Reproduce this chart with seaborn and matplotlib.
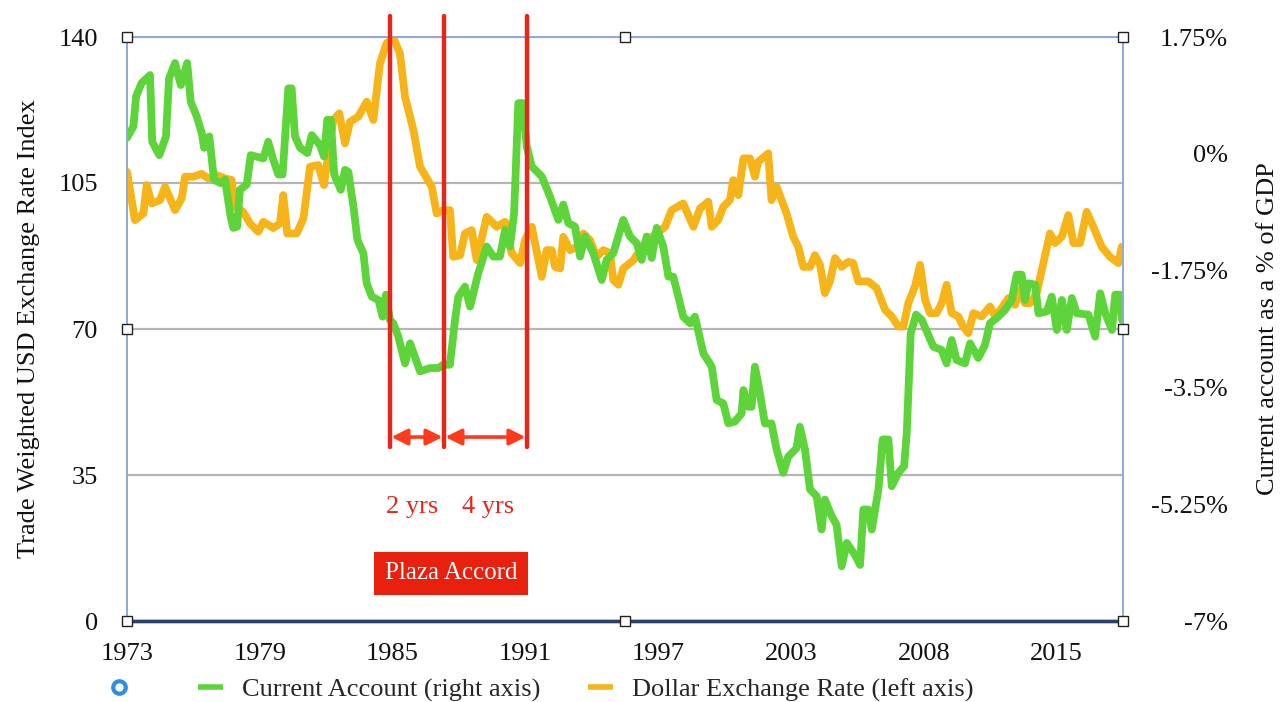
import numpy as np
import pandas as pd
import matplotlib
matplotlib.use("Agg")
import matplotlib.pyplot as plt
from matplotlib.lines import Line2D
import seaborn as sns

# Dados (ano decimal, valor)

# Conta corrente EUA (% do PIB) - eixo direito
ca_year = [1973.00, 1973.29, 1973.41, 1973.66, 1974.04, 1974.14, 1974.46, 1974.76, 1974.90, 1975.17,
           1975.43, 1975.72, 1975.88, 1976.15, 1976.38, 1976.48, 1976.72, 1976.93, 1977.23, 1977.43,
           1977.68, 1977.80, 1977.98, 1978.10, 1978.41, 1978.59, 1979.16, 1979.38, 1979.61, 1979.84,
           1980.03, 1980.29, 1980.44, 1980.59, 1980.82, 1981.15, 1981.35, 1981.72, 1981.90, 1982.05,
           1982.21, 1982.36, 1982.66, 1982.85, 1983.00, 1983.23, 1983.41, 1983.68, 1983.83, 1984.06,
           1984.36, 1984.55, 1984.70, 1984.88, 1985.03, 1985.26, 1985.56, 1985.79, 1986.24, 1986.69,
           1987.07, 1987.29, 1987.59, 1987.82, 1987.97, 1988.27, 1988.50, 1988.87, 1989.25, 1989.55,
           1989.85, 1990.08, 1990.30, 1990.49, 1990.68, 1990.88, 1991.06, 1991.29, 1991.74, 1992.11,
           1992.49, 1992.71, 1992.94, 1993.24, 1993.47, 1993.69, 1994.07, 1994.45, 1994.67, 1994.97,
           1995.42, 1995.73, 1996.03, 1996.25, 1996.48, 1996.71, 1996.93, 1997.23, 1997.46, 1997.68,
           1997.91, 1998.13, 1998.44, 1998.66, 1999.04, 1999.42, 1999.64, 1999.94, 2000.17, 2000.47,
           2000.77, 2000.85, 2001.07, 2001.22, 2001.37, 2001.52, 2001.82, 2002.12, 2002.35, 2002.65,
           2002.87, 2003.25, 2003.40, 2003.63, 2003.86, 2004.16, 2004.38, 2004.53, 2004.84, 2005.06,
           2005.29, 2005.52, 2005.89, 2006.12, 2006.27, 2006.49, 2006.65, 2006.95, 2007.14, 2007.40,
           2007.55, 2007.85, 2008.11, 2008.23, 2008.41, 2008.65, 2008.91, 2009.20, 2009.43, 2009.81,
           2010.03, 2010.26, 2010.48, 2010.86, 2011.09, 2011.46, 2011.77, 2011.99, 2012.30, 2012.67,
           2012.97, 2013.20, 2013.42, 2013.57, 2013.72, 2014.03, 2014.18, 2014.56, 2014.78, 2015.01,
           2015.24, 2015.46, 2015.69, 2015.91, 2016.44, 2016.74, 2016.97, 2017.20, 2017.50, 2017.65,
           2017.85, 2017.96]
ca_value = [0.24, 0.41, 0.86, 1.06, 1.18, 0.18, -0.02, 0.26, 1.13, 1.36,
            1.03, 1.36, 0.78, 0.56, 0.31, 0.09, 0.26, -0.39, -0.44, -0.39,
            -0.94, -1.11, -1.09, -0.54, -0.46, -0.02, -0.07, 0.18, -0.09, -0.31,
            -0.31, 0.98, 0.98, 0.26, 0.09, 0.01, 0.28, 0.13, -0.04, 0.51,
            0.51, -0.31, -0.54, -0.24, -0.27, -0.79, -1.29, -1.49, -1.94, -2.14,
            -2.19, -2.44, -2.11, -2.49, -2.54, -2.74, -3.14, -2.84, -3.26, -3.21,
            -3.21, -3.16, -3.16, -2.49, -2.14, -1.99, -2.29, -1.79, -1.39, -1.54,
            -1.54, -1.14, -1.39, -0.89, 0.76, 0.76, 0.11, -0.19, -0.34, -0.64,
            -0.99, -0.76, -1.04, -1.09, -1.54, -1.24, -1.49, -1.89, -1.59, -1.49,
            -0.99, -1.24, -1.34, -1.59, -1.24, -1.56, -1.11, -1.39, -1.84, -1.84,
            -2.14, -2.44, -2.54, -2.44, -2.99, -3.19, -3.69, -3.74, -4.04, -4.01,
            -3.89, -3.54, -3.79, -3.79, -3.19, -3.44, -4.04, -4.04, -4.43, -4.78,
            -4.54, -4.41, -4.09, -4.43, -5.03, -5.13, -5.63, -5.18, -5.43, -5.56,
            -6.18, -5.83, -6.01, -6.16, -5.33, -5.33, -5.63, -5.03, -4.28, -4.28,
            -4.98, -4.78, -4.68, -4.18, -2.69, -2.41, -2.49, -2.71, -2.89, -2.94,
            -3.14, -2.79, -3.09, -3.14, -2.84, -3.06, -2.86, -2.54, -2.46, -2.34,
            -2.19, -1.81, -1.81, -2.19, -1.94, -1.96, -2.39, -2.36, -2.14, -2.64,
            -2.19, -2.64, -2.16, -2.39, -2.41, -2.74, -2.09, -2.39, -2.64, -2.11,
            -2.11, -2.49]

# Índice do dólar ponderado pelo comércio - eixo esquerdo
usd_year = [1973.00, 1973.36, 1973.74, 1973.89, 1974.12, 1974.49, 1974.72, 1975.17, 1975.47, 1975.62,
            1976.00, 1976.37, 1976.67, 1977.05, 1977.43, 1977.73, 1977.88, 1978.25, 1978.56, 1978.93,
            1979.16, 1979.61, 1979.91, 1980.06, 1980.24, 1980.67, 1980.97, 1981.27, 1981.64, 1981.90,
            1982.10, 1982.32, 1982.59, 1982.85, 1983.08, 1983.45, 1983.83, 1984.13, 1984.43, 1984.73,
            1985.04, 1985.33, 1985.56, 1985.94, 1986.24, 1986.77, 1986.99, 1987.29, 1987.59, 1987.74,
            1988.05, 1988.27, 1988.57, 1988.80, 1989.25, 1989.70, 1990.08, 1990.38, 1990.76, 1990.98,
            1991.29, 1991.74, 1991.96, 1992.19, 1992.34, 1992.57, 1992.71, 1993.02, 1993.32, 1993.62,
            1993.92, 1994.22, 1994.52, 1994.82, 1994.97, 1995.20, 1995.42, 1995.88, 1996.18, 1996.48,
            1996.93, 1997.31, 1997.61, 1998.13, 1998.59, 1998.89, 1999.26, 1999.42, 1999.71, 1999.94,
            2000.24, 2000.39, 2000.62, 2000.85, 2001.15, 2001.37, 2001.52, 2001.97, 2002.12, 2002.35,
            2002.80, 2003.10, 2003.33, 2003.55, 2003.86, 2004.08, 2004.31, 2004.53, 2004.76, 2004.99,
            2005.29, 2005.59, 2005.81, 2006.04, 2006.49, 2006.87, 2007.25, 2007.55, 2007.85, 2008.08,
            2008.30, 2008.60, 2008.83, 2009.06, 2009.28, 2009.58, 2009.81, 2010.03, 2010.26, 2010.56,
            2010.78, 2011.01, 2011.24, 2011.61, 2011.99, 2012.22, 2012.52, 2012.82, 2013.12, 2013.35,
            2013.57, 2013.80, 2014.10, 2014.40, 2014.70, 2014.93, 2015.23, 2015.53, 2015.76, 2016.06,
            2016.36, 2016.66, 2017.04, 2017.41, 2017.79, 2017.94]
usd_value = [107.7, 96.1, 97.7, 104.5, 100.1, 100.9, 104.1, 98.5, 101.3, 106.5,
             106.5, 107.2, 106.1, 106.9, 106.1, 105.7, 99.3, 98.1, 95.3, 93.3,
             95.7, 94.2, 95.3, 102.1, 92.9, 92.9, 96.5, 108.9, 109.3, 104.5,
             112.1, 120.1, 121.7, 114.5, 119.7, 120.9, 124.5, 120.1, 133.7, 138.5,
             139.7, 136.1, 125.7, 117.7, 108.9, 104.1, 97.7, 98.5, 98.5, 87.3,
             87.7, 92.9, 93.7, 86.5, 96.9, 94.5, 95.7, 88.2, 85.8, 91.3,
             94.5, 82.5, 88.9, 88.9, 84.9, 84.5, 92.1, 88.9, 89.7, 92.9,
             91.3, 87.3, 88.9, 88.2, 81.8, 80.6, 84.5, 86.5, 88.9, 91.3,
             92.9, 94.5, 98.5, 100.1, 94.5, 98.9, 100.5, 94.5, 96.1, 99.3,
             100.9, 105.7, 102.1, 110.9, 110.9, 106.5, 110.1, 112.1, 100.9, 104.1,
             97.7, 92.1, 89.7, 84.9, 84.9, 87.7, 85.4, 78.6, 81.4, 87.0,
             84.9, 86.1, 85.8, 81.4, 81.4, 79.8, 74.6, 73.0, 70.6, 70.6,
             76.2, 80.2, 85.4, 77.0, 73.8, 73.8, 76.2, 80.6, 73.8, 73.0,
             70.6, 69.0, 73.8, 73.0, 75.4, 73.0, 75.0, 77.4, 75.8, 79.4,
             76.2, 76.2, 78.6, 85.8, 92.9, 90.6, 92.1, 97.3, 90.6, 90.6,
             98.1, 94.5, 89.7, 87.3, 85.8, 89.7]

# Eixos
x_ticks = [1973, 1979, 1985, 1991, 1997, 2003, 2009, 2015]
x_labels = ["1973", "1979", "1985", "1991", "1997", "2003", "2008", "2015"]
left_ticks = [0, 35, 70, 105, 140]
right_ticks = [-7, -5.25, -3.5, -1.75, 0, 1.75]
right_labels = ["-7%", "-5.25%", "-3.5%", "-1.75%", "0%", "1.75%"]

# Plaza Accord (linhas vermelhas)
plaza_lines = [1984.88, 1987.32, 1991.07]

df_ca = pd.DataFrame({"ano": ca_year, "conta": ca_value})
df_usd = pd.DataFrame({"ano": usd_year, "indice": usd_value})

# %%
sns.set_theme(style="white")
plt.rcParams["font.family"] = ["Liberation Serif", "DejaVu Serif"]

verde = "#5dd43a"
laranja = "#f6b418"
vermelho = "#e6261a"
azul_claro = "#8eaadb"
fs = 19

fig = plt.figure(figsize=(12.8, 7.02), dpi=100)
ax = fig.add_axes([127 / 1280, 1 - 621 / 702, 996 / 1280, 584 / 702])
ax2 = ax.twinx()

sns.lineplot(data=df_usd, x="ano", y="indice", ax=ax, color=laranja, lw=5.6,
             estimator=None, sort=False)
sns.lineplot(data=df_ca, x="ano", y="conta", ax=ax2, color=verde, lw=5.6,
             estimator=None, sort=False)

ax.set_xlim(1973, 2018)
ax.set_ylim(0, 140)
ax2.set_ylim(-7, 1.75)

ax.set_xticks(x_ticks)
ax.set_xticklabels(x_labels)
ax.set_yticks(left_ticks)
ax.set_yticklabels([str(v) for v in left_ticks])
ax2.set_yticks(right_ticks)
ax2.set_yticklabels(right_labels)
for t in ax2.get_yticklabels():
    t.set_horizontalalignment("right")

ax.tick_params(axis="x", length=0, pad=16, labelsize=fs, colors="#111111")
ax.tick_params(axis="y", length=0, pad=21, labelsize=fs, colors="#111111")
ax2.tick_params(axis="y", length=0, pad=75.5, labelsize=fs, colors="#111111")

ax.set_xlabel("")
ax.set_ylabel("Trade Weighted USD Exchange Rate Index", fontsize=fs, color="#111111")
ax.yaxis.set_label_coords(-0.087, 0.5)
ax2.set_ylabel("Current account as a % of GDP", fontsize=fs, color="#111111")
ax2.yaxis.set_label_coords(1.135, 0.5)

# grade horizontal cinza
ax.yaxis.grid(True, color="#b5b5b5", lw=1.6)
ax.xaxis.grid(False)

# bordas
for a in (ax, ax2):
    for lado in ("left", "top", "right"):
        a.spines[lado].set_color(azul_claro)
        a.spines[lado].set_linewidth(1.2)
    a.spines["bottom"].set_color("#2b3f6b")
    a.spines["bottom"].set_linewidth(2.4)

# linhas verticais do Plaza Accord
for xl in plaza_lines:
    ax2.axvline(xl, ymin=0.298, ymax=1.036, color=vermelho, lw=3.2, clip_on=False, zorder=6)

# setas de duração
seta = dict(arrowstyle="<|-|>", color="#ff3a1c", lw=2.6, mutation_scale=24, shrinkA=1, shrinkB=1)
ax2.annotate("", xy=(plaza_lines[0], 0.315), xytext=(plaza_lines[1], 0.315),
             xycoords=("data", "axes fraction"), textcoords=("data", "axes fraction"),
             arrowprops=seta, zorder=7)
ax2.annotate("", xy=(plaza_lines[1], 0.315), xytext=(plaza_lines[2], 0.315),
             xycoords=("data", "axes fraction"), textcoords=("data", "axes fraction"),
             arrowprops=seta, zorder=7)

ax2.text(1985.88, 0.196, "2 yrs", transform=ax2.get_xaxis_transform(),
         ha="center", va="center", fontsize=fs, color=vermelho)
ax2.text(1989.31, 0.196, "4 yrs", transform=ax2.get_xaxis_transform(),
         ha="center", va="center", fontsize=fs, color=vermelho)
ax2.text(1987.64, 0.082, "Plaza Accord", transform=ax2.get_xaxis_transform(),
         ha="center", va="center", fontsize=18, color="white",
         bbox=dict(boxstyle="square,pad=0.42", fc="#e8200e", ec="none"))

# quadradinhos de seleção nos cantos
cantos = [(0, 0), (0.5, 0), (1, 0), (0, 0.5), (1, 0.5), (0, 1), (0.5, 1), (1, 1)]
for cx, cy in cantos:
    ax2.plot(cx, cy, marker="s", ms=7.5, mfc="white", mec="#222222", mew=1.0,
             transform=ax2.transAxes, clip_on=False, zorder=10)

# legenda
handles = [
    Line2D([], [], marker="o", ls="none", mfc="white", mec="#2b8fe6", mew=3, ms=9),
    Line2D([], [], color=verde, lw=4, solid_capstyle="butt"),
    Line2D([], [], color=laranja, lw=4, solid_capstyle="butt"),
]
labels = ["", "Current Account (right axis)", "Dollar Exchange Rate (left axis)"]
fig.legend(handles, labels, ncol=3, loc="center left", bbox_to_anchor=(106 / 1280, 1 - 690 / 702),
           frameon=False, fontsize=fs, handlelength=0.95, handletextpad=0.72,
           columnspacing=1.8, borderpad=0, borderaxespad=0)

fig.savefig("out.png", dpi=100)
